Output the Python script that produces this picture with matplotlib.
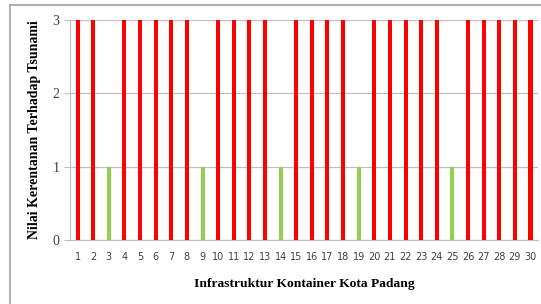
import numpy as np
import matplotlib.pyplot as plt
from matplotlib.patches import Rectangle

infrastruktur = [str(i) for i in range(1, 31)]
nilai = [3, 3, 1, 3, 3, 3, 3, 3, 1, 3,
         3, 3, 3, 1, 3, 3, 3, 3, 1, 3,
         3, 3, 3, 3, 1, 3, 3, 3, 3, 3]
warna = ['#92D050' if v == 1 else '#FF0000' for v in nilai]

plt.rcParams['font.family'] = ['Liberation Serif', 'DejaVu Serif']

fig = plt.figure(figsize=(5.41, 3.04), dpi=100)
ax = fig.add_axes([0.129, 0.211, 0.866, 0.723])

x = np.arange(len(nilai))
ax.bar(x, nilai, width=0.26, color=warna, zorder=3)

ax.set_xlim(-0.5, len(nilai) - 0.5)
ax.set_ylim(0, 3)
ax.set_yticks([0, 1, 2, 3])
ax.set_xticks(x)
ax.set_xticklabels(infrastruktur, fontsize=7, color='#404040', family='DejaVu Sans')
ax.tick_params(axis='y', labelsize=10, colors='#404040', length=4, color='#bfbfbf')
ax.tick_params(axis='x', length=0, pad=9)
ax.grid(axis='y', color='#bfbfbf', linewidth=0.9, zorder=0)
for s in ['top', 'right']:
    ax.spines[s].set_visible(False)
ax.spines['left'].set_color('#bfbfbf')
ax.spines['bottom'].set_color('#bfbfbf')

ax.set_xlabel('Infrastruktur Kontainer Kota Padang', fontsize=9.7, fontweight='bold', labelpad=11)
ax.set_ylabel('Nilai Kerentanan Terhadap Tsunami', fontsize=10, fontweight='bold', labelpad=8)

fig.patches.append(Rectangle((10, -50), 600, 349, transform=None, fill=False,
                             edgecolor='#b0b0b0', linewidth=1.5))

plt.savefig('out.png', dpi=100)
